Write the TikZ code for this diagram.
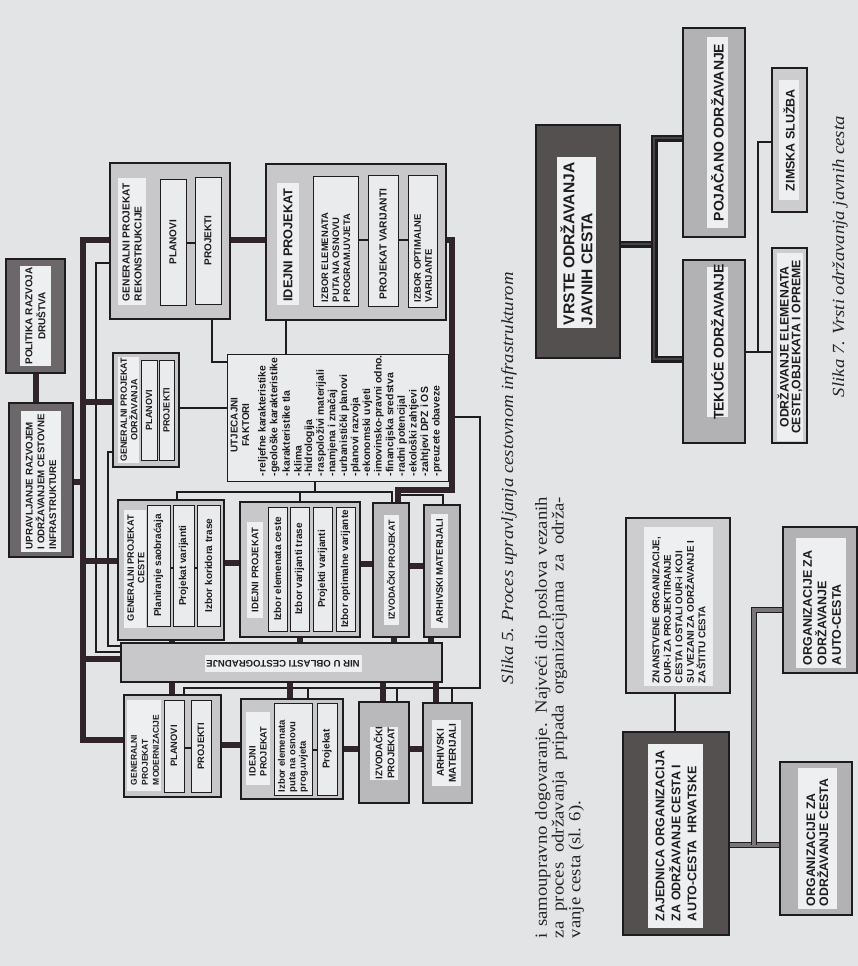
\documentclass[tikz,border=0pt]{standalone}
\usepackage{fontspec}
\setmainfont{Liberation Serif}
\newfontfamily\dg{Liberation Sans}
\newfontfamily\capf[FakeStretch=1.1]{Liberation Serif}
\usetikzlibrary{calc}
\pgfdeclarelayer{paperlayer}
\pgfdeclarelayer{wires}
\pgfsetlayers{paperlayer,wires,main}

\definecolor{paper}{RGB}{226,228,230}
\definecolor{ink}{RGB}{30,28,30}
\definecolor{conn}{RGB}{48,36,42}
\definecolor{boxlight}{RGB}{200,200,202}
\definecolor{boxwhite}{RGB}{234,235,236}
\definecolor{labwhite}{RGB}{238,239,240}
\definecolor{boxmid}{RGB}{185,185,187}
\definecolor{boxdark}{RGB}{108,104,106}
\definecolor{boxdeep}{RGB}{84,80,80}
\definecolor{boxgray}{RGB}{178,178,180}
\definecolor{boxpale}{RGB}{205,205,207}
\definecolor{tubefill}{RGB}{120,118,118}
\definecolor{tubedark}{RGB}{72,68,68}
\definecolor{prose}{RGB}{36,36,38}

\newcommand\dgf[2]{\dg\bfseries\fontsize{#1}{#2}\selectfont}
% box from corner (x1,y1) to (x2,y2), y pointing down
\newcommand\bx[6]{\node[#2, minimum width={(#5-#3)*1pt}, minimum height={(#6-#4)*1pt}] (#1) at ({(#3+#5)/2},{(#4+#6)/2}) {};}

\tikzset{
  shp/.style={rectangle, inner sep=0pt, outer sep=0pt},
  outerbox/.style={shp, draw=ink, line width=1.3pt, fill=boxlight},
  innerbox/.style={shp, draw=ink, line width=1pt, fill=boxwhite},
  midbox/.style={shp, draw=ink, line width=1.3pt, fill=boxmid},
  darkbox/.style={shp, draw=ink, line width=1.3pt, fill=boxdark},
  deepbox/.style={shp, draw=ink, line width=1.3pt, fill=boxdeep},
  graybox/.style={shp, draw=ink, line width=1.3pt, fill=boxgray},
  palebox/.style={shp, draw=ink, line width=1.3pt, fill=boxpale},
  labelbg/.style={shp, fill=labwhite},
  lbl/.style={inner sep=0pt, outer sep=0pt, text=ink},
  vtxt/.style={lbl, rotate=90},
  heavy/.style={draw=conn, line width=6pt},
  fine/.style={draw=ink, line width=1.1pt},
  tube/.style={draw=ink, line width=1.6pt, double=tubefill, double distance=3.6pt},
  tubedk/.style={draw=ink, line width=2.2pt, double=tubedark, double distance=2.6pt},
  capstyle/.style={lbl, rotate=90, text=prose, font=\capf\itshape\fontsize{17}{20}\selectfont},
}

\begin{document}
\begin{tikzpicture}[x=1pt, y=-1pt]
\begin{pgfonlayer}{paperlayer}
\fill[paper] (0,0) rectangle (858,966);
\end{pgfonlayer}
\useasboundingbox (0,0) rectangle (858,966);

% ================= process of road infrastructure management =================
% policy and management
\bx{pol}{darkbox}{6}{259}{65}{373}
\bx{polL}{labelbg}{20}{266}{51}{366}
\node[vtxt, align=center, font=\dgf{10}{13}] (polT) at (35.5,316) {POLITIKA RAZVOJA\\DRUŠTVA};
\bx{upr}{darkbox}{9}{403}{73}{557}
\bx{uprL}{labelbg}{21}{411}{61}{552}
\node[vtxt, align=left, anchor=west, font=\dgf{9.7}{11.8}] (uprT) at (41,549) {UPRAVLJANJE RAZVOJEM\\I ODRŽAVANJEM CESTOVNE\\INFRASTRUKTURE};

% reconstruction project
\bx{rek}{outerbox}{110}{163}{230}{319}
\bx{rekL}{labelbg}{118}{178}{146}{305}
\node[vtxt, align=left, anchor=west, font=\dgf{10.2}{12}] (rekT) at (132,301) {GENERALNI PROJEKAT\\REKONSTRUKCIJE};
\bx{rekA}{innerbox}{160}{179}{186}{305}
\node[vtxt, font=\dgf{10}{12}] (rekAt) at (rekA) {PLANOVI};
\bx{rekB}{innerbox}{195}{177}{221}{304}
\node[vtxt, font=\dgf{10}{12}] (rekBt) at (rekB) {PROJEKTI};
\draw[fine] (rekA.east |- 0,243) -- (rekB.west |- 0,243);

% preliminary design (top)
\bx{idt}{outerbox}{266}{164}{446}{320}
\bx{idtL}{labelbg}{277}{183}{299}{305}
\node[vtxt, font=\dgf{12.8}{14}] (idtT) at (288,245) {IDEJNI PROJEKAT};
\bx{idtA}{innerbox}{313}{176}{358}{306}
\node[vtxt, align=left, anchor=west, font=\dgf{9.4}{11}] (idtAt) at (336,302) {IZBOR ELEMENATA\\PUTA NA OSNOVU\\PROGRAM.UVJETA};
\bx{idtB}{innerbox}{368}{175}{398}{306}
\node[vtxt, font=\dgf{10.2}{12}] (idtBt) at (383,244) {PROJEKAT VARIJANTI};
\bx{idtC}{innerbox}{408}{175}{437}{307}
\node[vtxt, align=left, anchor=west, font=\dgf{9.5}{11}] (idtCt) at (423,302) {IZBOR OPTIMALNE\\VARIJANTE};
\draw[fine] (idtA.east |- 0,240) -- (idtB.west |- 0,240);
\draw[fine] (idtB.east |- 0,240) -- (idtC.west |- 0,240);

% maintenance project
\bx{odr}{outerbox}{113}{353}{179}{467}
\bx{odrL}{labelbg}{118}{357}{139}{463}
\node[vtxt, align=center, font=\dgf{9}{10.5}] (odrT) at (129,410) {GENERALNI PROJEKAT\\ODRŽAVANJA};
\bx{odrA}{innerbox}{141}{360}{157}{460}
\node[vtxt, font=\dgf{9}{11}] (odrAt) at (odrA) {PLANOVI};
\bx{odrB}{innerbox}{159}{360}{174}{460}
\node[vtxt, font=\dgf{9}{11}] (odrBt) at (odrB) {PROJEKTI};

% influencing factors
\bx{utj}{innerbox}{227}{354}{448}{481}
\node[vtxt, align=center, font=\dgf{9.9}{11.5}] (utjT) at (240,425) {UTJECAJNI\\FAKTORI};
\foreach \t [count=\i] in {-reljefne karakteristike,-geološke karakteristike,-karakteristike tla,-klima,-hidrologija,-raspoloživi materijali,-namjena i značaj,-urbanistički planovi,-planovi razvoja,-ekonomski uvjeti,-imovinsko-pravni odno.,-financijska sredstva,-radni potencijal,-ekološki zahtjevi,-zahtjevi DPZ i OS,-preuzete obaveze}
  \node[vtxt, anchor=west, font=\dgf{10.4}{12}] (utj\i) at ({263+(\i-1)*11.6},476) {\t};

% road project row
\bx{ces}{outerbox}{118}{500}{224}{640}
\bx{cesL}{labelbg}{124}{510}{146}{628}
\node[vtxt, align=center, font=\dgf{9.2}{10.5}] (cesT) at (136,568) {GENERALNI PROJEKAT\\CESTE};
\bx{cesA}{innerbox}{147}{505}{170}{626}
\node[vtxt, font=\dgf{10}{12}] (cesAt) at (cesA) {Planiranje saobraćaja};
\bx{cesB}{innerbox}{173}{505}{194}{626}
\node[vtxt, font=\dgf{10}{12}] (cesBt) at (cesB) {Projekat varijanti};
\bx{cesC}{innerbox}{197}{505}{220}{626}
\node[vtxt, font=\dgf{10}{12}] (cesCt) at (cesC) {Izbor koridora trase};
\draw[fine] (cesA.east |- 0,568) -- (cesB.west |- 0,568);
\draw[fine] (cesB.east |- 0,568) -- (cesC.west |- 0,568);

\bx{idm}{outerbox}{240}{502}{360}{637}
\bx{idmL}{labelbg}{247}{522}{263}{618}
\node[vtxt, font=\dgf{9.5}{11}] (idmT) at (255,570) {IDEJNI PROJEKAT};
\bx{idmA}{innerbox}{268}{507}{287}{631}
\node[vtxt, font=\dgf{10}{12}] (idmAt) at (idmA) {Izbor elemenata ceste};
\bx{idmB}{innerbox}{290}{507}{309}{631}
\node[vtxt, font=\dgf{10}{12}] (idmBt) at (idmB) {Izbor varijanti trase};
\bx{idmC}{innerbox}{313}{507}{332}{631}
\node[vtxt, font=\dgf{10}{12}] (idmCt) at (idmC) {Projekti varijanti};
\bx{idmD}{innerbox}{336}{507}{355}{631}
\node[vtxt, font=\dgf{10}{12}] (idmDt) at (idmD) {Izbor optimalne varijante};

\bx{izm}{midbox}{373}{503}{409}{637}
\bx{izmL}{labelbg}{384}{515}{399}{625}
\node[vtxt, font=\dgf{8.9}{11}] (izmT) at (391,570) {IZVODAČKI PROJEKAT};
\bx{arm}{midbox}{424}{505}{460}{637}
\bx{armL}{labelbg}{431}{514}{448}{628}
\node[vtxt, font=\dgf{9.5}{11}] (armT) at (439.5,571) {ARHIVSKI MATERIJALI};

% research bar
\bx{nir}{outerbox}{121}{643}{442}{682}
\bx{nirL}{labelbg}{205}{655}{362}{672}
\node[lbl, rotate=180, font=\dgf{9.6}{11}] (nirT) at (283,663.5) {NIR U OBLASTI CESTOGRADNJE};

% modernisation row
\bx{mod}{outerbox}{124}{695}{221}{797}
\bx{modL}{labelbg}{127}{700}{161}{791}
\node[vtxt, align=left, anchor=west, font=\dgf{8.5}{11}] (modT) at (145,785) {GENERALNI\\PROJEKAT\\MODERNIZACIJE};
\bx{modA}{innerbox}{164}{700}{184}{792}
\node[vtxt, font=\dgf{9.3}{11}] (modAt) at (modA) {PLANOVI};
\bx{modB}{innerbox}{191}{700}{211}{792}
\node[vtxt, font=\dgf{9.3}{11}] (modBt) at (modB) {PROJEKTI};
\draw[fine] (modA.east |- 0,748) -- (modB.west |- 0,748);

\bx{idb}{outerbox}{241}{699}{343}{799}
\bx{idbL}{labelbg}{246}{712}{270}{785}
\node[vtxt, align=left, anchor=west, font=\dgf{9.2}{11}] (idbT) at (258,776) {IDEJNI\\PROJEKAT};
\bx{idbA}{innerbox}{274}{703}{312}{795}
\node[vtxt, align=left, anchor=west, font=\dgf{9.5}{10.5}] (idbAt) at (293,792) {Izbor elemenata\\puta na osnovu\\prog.uvjeta};
\bx{idbB}{innerbox}{317}{703}{337}{795}
\node[vtxt, font=\dgf{10}{12}] (idbBt) at (idbB) {Projekat};
\draw[fine] (idbA.east |- 0,750) -- (idbB.west |- 0,750);

\bx{izb}{midbox}{359}{702}{409}{803}
\bx{izbL}{labelbg}{370}{727}{398}{780}
\node[vtxt, align=center, font=\dgf{9.6}{12}] (izbT) at (384,753) {IZVODAČKI\\PROJEKAT};
\bx{arb}{midbox}{423}{703}{472}{803}
\bx{arbL}{labelbg}{432}{720}{461}{786}
\node[vtxt, align=center, font=\dgf{10}{12}] (arbT) at (446.5,753) {ARHIVSKI\\MATERIJALI};

% junction points of the connectors
\coordinate (spT) at (83,240);
\coordinate (spB) at (83,740);
\coordinate (busU) at (315,492);
\coordinate (busL) at (177,492);
\coordinate (busR) at (392,492);
\coordinate (busM) at (300,492);
\coordinate (turnR) at (452,240);
\coordinate (turnD) at (452,490);
\coordinate (turnL) at (398,490);
\coordinate (retA) at (452,417);
\coordinate (retB) at (480,417);
\coordinate (retC) at (480,688);
\coordinate (retD) at (184,688);

\begin{pgfonlayer}{wires}
% thin links
\draw[fine] (rek.west |- 0,263) -- (96,263) -- (96,652) -- (nir.west |- 0,652);
\draw[fine] (odr.west |- 0,452) -- (108,452) -- (108,646) -- (nir.west |- 0,646);
\draw[fine] (rek.south -| 212,0) -- (212,362) -- (utj.west |- 0,362);
\draw[fine] (idt.south -| 286,0) -- (utj.north -| 286,0);
\draw[fine] (odr.east |- 0,408) -- (utj.west |- 0,408);
\draw[fine] (utj.south -| busU) -- (busU);
\draw[fine] (ces.north -| busL) -- (busL) -- (busR) -- (izm.north -| busR);
\draw[fine] (busM) -- (idm.north -| busM);
\draw[fine] (turnL |- 0,495) -- (443,495) -- (arm.north -| 443,0);
\draw[fine] (retA) -- (retB) -- (retC) -- (retD) -- (mod.north -| retD);
\draw[fine] (308,688) -- (idb.north -| 308,0);
\draw[fine] (397,688) -- (izb.north -| 397,0);
\draw[fine] (452,688) -- (arb.north -| 452,0);
% heavy links
\draw[heavy] (rek.west |- spT) -- (spT) -- (spB) -- (mod.west |- spB);
\draw[heavy] (upr.east |- 0,482) -- (spT |- 0,482);
\draw[heavy] (spT |- 0,402) -- (odr.west |- 0,402);
\draw[heavy] (spT |- 0,561) -- (ces.west |- 0,561);
\draw[heavy] (spT |- 0,659) -- (nir.west |- 0,659);
\draw[heavy] (pol.south) -- (pol.south |- upr.north);
\draw[heavy] (rek.east |- spT) -- (idt.west |- spT);
\draw[heavy] (idt.east |- turnR) -- (turnR) -- (turnD) -- (turnL) -- (izm.north -| turnL);
\draw[heavy] (ces.east |- 0,563) -- (idm.west |- 0,563);
\draw[heavy] (idm.east |- 0,564) -- (izm.west |- 0,564);
\draw[heavy] (izm.east |- 0,566) -- (arm.west |- 0,566);
\draw[heavy] (ces.south -| 172,0) -- (nir.north -| 172,0);
\draw[heavy] (idm.south -| 300,0) -- (nir.north -| 300,0);
\draw[heavy] (izm.south -| 394,0) -- (nir.north -| 394,0);
\draw[heavy] (arm.south -| 431,0) -- (nir.north -| 431,0);
\draw[heavy] (nir.south -| 172,0) -- (mod.north -| 172,0);
\draw[heavy] (nir.south -| 290,0) -- (idb.north -| 290,0);
\draw[heavy] (nir.south -| 383,0) -- (izb.north -| 383,0);
\draw[heavy] (nir.south -| 436,0) -- (arb.north -| 436,0);
\draw[heavy] (mod.east |- 0,745) -- (idb.west |- 0,745);
\draw[heavy] (idb.east |- 0,749) -- (izb.west |- 0,749);
\draw[heavy] (izb.east |- 0,749) -- (arb.west |- 0,749);
\end{pgfonlayer}

\node[capstyle, anchor=west] (cap5) at (509,684) {Slika 5. Proces upravljanja cestovnom infrastrukturom};

% ================= running text =================
\node[lbl, rotate=90, anchor=north west, align=left, text=prose,
      font=\capf\fontsize{17}{16.8}\selectfont] (para) at (535,938)
  {\makebox[441pt][s]{i samoupravno dogovaranje. Najveći dio poslova vezanih}\\
   \makebox[441pt][s]{za proces održavanja pripada organizacijama za održa-}\\
   vanje cesta (sl. 6).};

% ================= kinds of public road maintenance =================
\bx{vrs}{deepbox}{536}{125}{620}{358}
\bx{vrsL}{labelbg}{557}{157}{596}{328}
\node[vtxt, align=left, anchor=west, font=\dgf{15.6}{18}] (vrsT) at (576.5,325) {VRSTE ODRŽAVANJA\\JAVNIH CESTA};
\bx{poj}{graybox}{683}{28}{745}{237}
\bx{pojL}{labelbg}{707}{37}{728}{228}
\node[vtxt, font=\dgf{14}{16}] (pojT) at (717.5,132.5) {POJAČANO ODRŽAVANJE};
\bx{tek}{graybox}{683}{260}{745}{443}
\bx{tekL}{labelbg}{707}{267}{728}{417}
\node[vtxt, font=\dgf{14}{16}] (tekT) at (717.5,342) {TEKUĆE ODRŽAVANJE};
\bx{zim}{palebox}{772}{68}{807}{212}
\bx{zimL}{labelbg}{779}{80}{799}{200}
\node[vtxt, font=\dgf{12.5}{14}] (zimT) at (789,140) {ZIMSKA SLUŽBA};
\bx{odre}{palebox}{772}{248}{807}{443}
\bx{odreL}{labelbg}{777}{253}{803}{441}
\node[vtxt, align=center, font=\dgf{12.3}{11.7}] (odreT) at (790,347) {ODRŽAVANJE ELEMENATA\\CESTE,OBJEKATA I OPREME};

\coordinate (brk) at (654,244);
\coordinate (zimJ) at (758,142);
\coordinate (odreJ) at (758,352);
\begin{pgfonlayer}{wires}
\draw[tubedk] (vrs.east |- brk) -- (brk);
\draw[tubedk] (poj.west |- 0,138) -- (brk |- 0,138) -- (brk |- 0,359) -- (tek.west |- 0,359);
\draw[fine] (tek.east |- odreJ) -- (odre.west |- odreJ);
\draw[fine] (odreJ) -- (zimJ) -- (zim.west |- zimJ);
\end{pgfonlayer}

\node[capstyle, anchor=west] (cap7) at (840,397) {Slika 7. Vrsti održavanja javnih cesta};

% ================= road maintenance organisations =================
\bx{zaj}{deepbox}{623}{732}{729}{935}
\bx{zajL}{labelbg}{648}{744}{703}{928}
\node[vtxt, align=left, anchor=west, font=\dgf{12.5}{16}] (zajT) at (676,921) {ZAJEDNICA ORGANIZACIJA\\ZA ODRŽAVANJE CESTA I\\AUTO-CESTA\ \ HRVATSKE};
\bx{zna}{palebox}{626}{518}{730}{693}
\bx{znaL}{labelbg}{644}{527}{713}{686}
\node[vtxt, align=left, anchor=west, font=\dgf{9.8}{11.5}] (znaT) at (679,683) {ZNANSTVENE ORGANIZACIJE,\\OUR-i ZA PROJEKTIRANJE\\CESTA I OSTALI OUR-i KOJI\\SU VEZANI ZA ODRŽAVANJE I\\ZAŠTITU CESTA};
\bx{orgc}{graybox}{780}{762}{852}{915}
\bx{orgcL}{labelbg}{798}{768}{837}{909}
\node[vtxt, align=left, anchor=west, font=\dgf{12.3}{13}] (orgcT) at (817.5,906) {ORGANIZACIJE ZA\\ODRŽAVANJE CESTA};
\bx{orga}{graybox}{783}{527}{857}{673}
\bx{orgaL}{labelbg}{796}{538}{846}{668}
\node[vtxt, align=left, anchor=west, font=\dgf{12.5}{14.5}] (orgaT) at (822,665) {ORGANIZACIJE ZA\\ODRŽAVANJE\\AUTO-CESTA};

\coordinate (orgJ) at (754,845);
\begin{pgfonlayer}{wires}
\draw[fine] (zaj.north -| 675,0) -- (zna.south -| 675,0);
\draw[tube] (zaj.east |- orgJ) -- (orgc.west |- orgJ);
\draw[tube] (orgJ) -- (orgJ |- 0,610) -- (orga.west |- 0,610);
\end{pgfonlayer}
\end{tikzpicture}
\end{document}
